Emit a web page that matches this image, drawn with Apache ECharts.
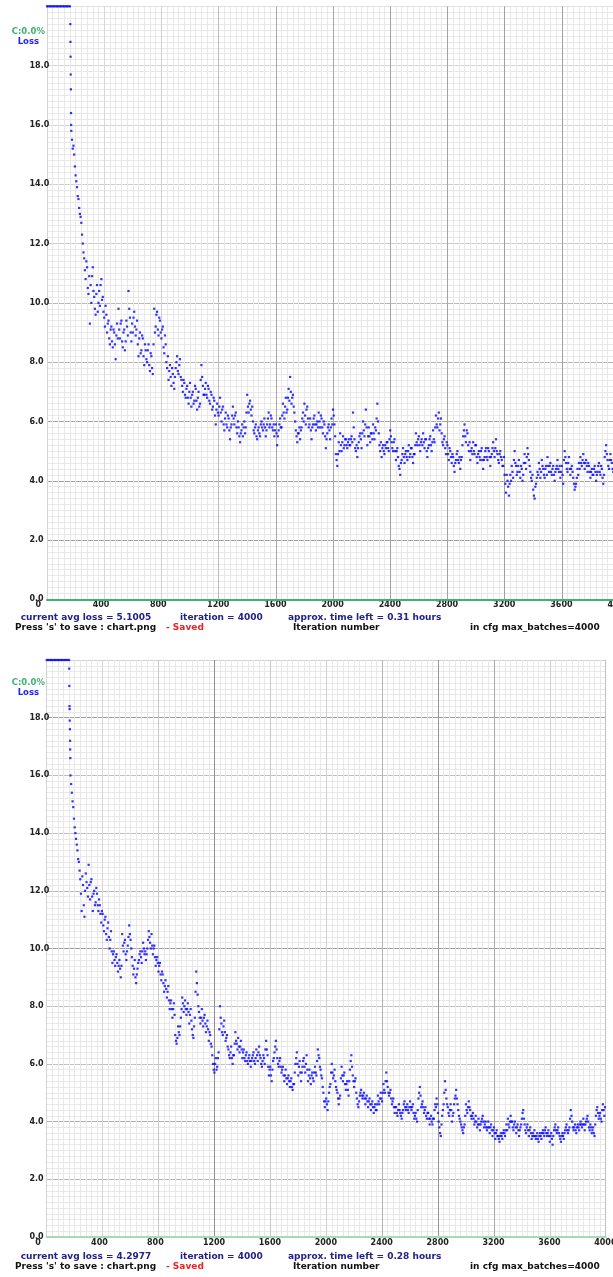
<!DOCTYPE html>
<html><head><meta charset="utf-8">
<script src="https://cdn.jsdelivr.net/npm/echarts@6/dist/echarts.min.js"></script>
<style>html,body{margin:0;padding:0;background:#fff}#c{width:613px;height:1277px}</style>
</head><body><div id="c"></div>
<script>
// ---------- data ----------
const xTickLabels = [0,400,800,1200,1600,2000,2400,2800,3200,3600,4000];
const yTickLabels = [0,2,4,6,8,10,12,14,16,18,20];
const mainStart = 200, mainStep = 10, halfStep = 5;

const topHeadIter = [0,10,20,30,40,50,60,70,80,90,100,110,120,130,140,150,160,163,164,165,166,167,168,169,170,175,180,185,190,195];
const topHeadLoss = [20,20,20,20,20,20,20,20,20,20,20,20,20,20,20,20,20,19.4,18.8,18.3,17.7,17.2,16.4,16.0,15.8,15.5,15.2,15.3,15.0,14.6];
// loss at iterations 200, 210, ... 3990
const topLossA = [
14.3,13.9,13.5,13.0,12.7,12.0,11.5,10.8,11.2,10.3,
9.3,10.0,11.2,10.2,9.6,10.6,10.0,9.9,10.8,10.2,
9.5,9.9,9.0,9.4,8.6,9.2,8.5,9.0,8.1,9.3,
9.8,8.8,9.4,8.5,9.1,8.7,9.2,10.4,9.5,8.7,
9.0,9.7,8.9,9.4,8.2,9.0,8.4,8.8,7.9,8.4,
8.0,8.6,7.7,8.2,7.6,9.8,9.2,9.7,8.9,9.4,
8.8,9.2,8.3,8.6,7.8,7.4,7.9,7.2,7.6,7.1,
7.8,8.2,7.6,8.1,7.4,7.0,7.3,6.8,7.2,6.6,
7.3,6.5,7.0,6.7,7.1,6.4,7.0,6.6,7.9,7.2,
6.9,7.3,6.8,7.1,6.6,6.9,6.5,6.7,5.9,6.6,
6.2,6.8,6.0,6.5,5.7,6.3,5.8,6.1,5.4,5.9,
6.5,5.9,6.3,5.6,5.8,5.3,5.7,5.5,6.0,5.8,
6.9,6.3,6.7,6.2,6.0,5.6,5.9,5.4,5.8,5.5,
6.0,5.7,6.1,5.5,5.9,6.3,5.9,6.1,5.7,5.5,
5.9,5.2,5.7,6.1,5.8,6.6,6.1,6.8,6.4,7.1,
7.5,6.6,6.9,6.3,5.7,5.3,5.6,5.4,5.8,6.3,
6.6,5.9,6.5,5.8,6.1,5.4,5.9,6.2,5.7,6.0,
6.3,5.8,6.1,5.6,5.9,5.1,5.6,5.9,5.4,6.1,
6.4,5.9,4.9,4.5,5.3,5.6,5.0,5.5,5.2,5.4,
5.1,5.4,5.2,5.5,6.3,5.4,5.0,4.8,5.3,5.6,
5.1,6.0,5.5,6.4,5.2,5.8,5.3,5.6,5.9,5.4,
5.7,6.6,5.6,5.0,4.8,5.2,4.9,5.1,5.3,5.0,
5.7,5.3,5.0,5.4,4.7,5.1,4.5,4.2,4.7,5.1,
4.6,5.0,4.7,5.2,4.9,5.1,4.6,4.9,5.6,5.2,
5.5,5.0,5.4,5.6,5.1,5.4,4.8,5.2,5.5,5.0,
5.7,5.3,6.2,5.8,6.3,5.9,5.6,5.2,5.5,4.9,
5.2,4.7,5.0,4.6,4.8,4.3,4.7,5.0,4.6,4.4,
4.8,5.5,5.9,5.3,5.6,5.0,4.7,5.1,5.3,4.9,
5.2,4.6,5.0,4.7,5.1,4.4,4.8,5.1,4.7,5.0,
4.5,4.9,5.3,4.8,5.4,4.9,4.6,5.0,4.7,4.5,
4.2,3.6,4.0,3.5,4.2,4.5,4.1,5.0,4.5,4.3,
4.7,4.1,4.4,4.2,4.9,4.4,5.1,4.7,4.3,4.0,
3.7,3.4,3.9,4.3,4.6,4.1,4.7,4.4,4.1,4.5,
4.8,4.3,4.6,4.2,4.5,4.0,4.4,4.7,4.3,4.1,
4.5,3.9,5.0,4.6,4.3,4.8,4.2,4.5,4.1,3.7,
3.9,4.4,4.6,4.8,4.5,4.9,4.4,4.7,4.3,4.5,
4.1,4.4,4.2,4.5,4.0,4.3,4.6,4.2,4.4,3.9,
4.8,5.2,4.7,4.4,4.9,4.6,4.3,4.8,5.0,4.6
];
// loss at iterations 205, 215, ... 3995
const topLossB = [
14.1,13.6,13.2,12.9,12.3,11.7,11.1,11.4,10.5,10.9,
10.6,10.9,10.4,9.8,10.3,9.7,10.4,10.6,10.1,9.7,
9.2,9.6,9.3,8.8,9.1,8.7,9.1,8.6,8.9,8.8,
9.1,9.3,8.7,9.0,8.4,9.4,8.9,9.8,9.0,9.3,
9.5,9.2,9.1,8.6,8.8,8.3,8.9,8.2,8.6,8.1,
8.4,7.9,8.3,7.8,8.6,9.0,9.6,9.1,9.5,9.0,
9.1,8.5,8.9,8.0,8.2,7.7,7.5,7.8,7.3,7.5,
8.0,7.7,7.9,7.5,7.2,7.4,6.9,7.1,6.8,7.0,
6.8,6.9,6.6,7.2,6.7,6.8,6.5,7.4,7.5,6.9,
7.1,6.9,7.2,6.7,7.0,6.4,6.8,6.2,6.4,6.3,
6.5,6.3,6.4,5.9,6.1,5.9,6.2,5.7,5.8,6.2,
6.1,6.2,5.8,6.0,5.5,5.6,5.9,5.8,5.6,6.3,
6.5,6.6,6.4,6.5,5.7,5.8,5.5,5.7,5.6,5.9,
5.8,5.9,5.8,5.7,6.1,5.8,6.2,5.8,5.9,5.7,
5.6,5.5,5.9,5.8,6.2,6.3,6.5,6.3,6.8,6.7,
7.0,6.8,6.5,6.0,5.5,5.6,5.8,5.7,6.1,6.0,
6.2,6.4,6.1,5.9,5.7,5.8,6.1,5.9,5.9,5.8,
6.0,6.2,5.8,6.0,5.5,5.4,5.8,5.7,5.8,5.9,
6.2,5.5,4.7,4.9,5.0,5.2,5.3,5.1,5.4,5.2,
5.3,5.2,5.4,5.3,5.8,5.1,5.2,5.1,5.5,5.4,
5.6,5.7,5.9,5.8,5.5,5.5,5.6,5.4,5.6,5.8,
6.1,6.0,5.2,5.3,5.1,5.0,5.2,5.3,5.1,5.4,
5.5,5.1,5.3,5.0,5.0,4.8,4.4,4.6,4.9,4.8,
4.9,4.8,5.0,4.8,5.1,4.8,4.9,5.2,5.3,5.4,
5.2,5.3,5.2,5.3,5.4,5.0,5.1,5.4,5.2,5.3,
5.4,5.8,5.9,6.1,5.7,6.1,5.3,5.4,5.1,5.3,
4.9,5.1,4.8,4.9,4.5,4.6,4.9,4.7,4.8,4.7,
5.2,5.7,5.5,5.7,5.2,5.3,5.0,4.9,5.0,5.2,
4.8,4.9,4.8,5.0,4.7,4.7,5.0,4.8,5.1,4.8,
4.8,5.1,5.0,5.1,5.0,4.7,4.9,4.8,4.5,4.8,
3.9,4.2,3.8,3.9,4.0,4.3,4.7,4.6,4.2,4.5,
4.3,4.5,4.0,4.6,4.6,4.8,4.9,4.5,4.1,4.2,
3.5,3.8,4.1,4.2,4.4,4.3,4.5,4.2,4.4,4.2,
4.5,4.5,4.3,4.4,4.2,4.3,4.5,4.4,4.5,4.3,
4.2,4.7,4.8,4.4,4.6,4.4,4.4,4.3,3.9,3.8,
4.1,4.2,4.4,4.6,4.7,4.6,4.6,4.5,4.6,4.3,
4.3,4.2,4.4,4.3,4.2,4.5,4.3,4.5,4.1,4.2,
5.0,4.9,4.5,4.7,4.7,4.4,4.6,4.7,4.8,4.9
];

const botHeadIter = [0,10,20,30,40,50,60,70,80,90,100,110,120,130,140,150,160,161,162,163,164,165,166,167,168,169,170,175,180,185,190,195];
const botHeadLoss = [20,20,20,20,20,20,20,20,20,20,20,20,20,20,20,20,20,19.7,19.1,18.4,18.3,17.9,17.6,17.2,16.9,16.6,16.0,15.7,15.4,15.1,14.9,14.5];
const botLossA = [
14.2,13.8,13.4,13.0,12.4,11.3,12.2,11.1,12.6,12.1,
12.9,11.7,12.4,11.3,12.0,11.6,11.9,11.3,11.5,10.9,
11.2,10.6,11.1,10.3,10.9,10.0,10.6,9.5,9.9,9.4,
9.8,9.2,9.6,9.0,10.5,9.9,10.3,9.6,10.1,10.8,
10.3,9.7,9.1,9.6,8.8,9.3,9.6,9.9,9.5,10.2,
9.8,9.6,10.0,10.6,10.2,10.5,9.8,10.1,9.4,9.7,
9.2,9.5,8.9,9.1,8.5,8.9,8.3,8.7,7.9,8.2,
7.6,8.1,7.0,6.7,7.3,7.0,7.6,8.3,7.8,8.2,
7.7,8.1,7.4,7.9,7.2,6.9,7.6,9.2,8.4,7.8,
7.4,7.9,7.3,7.7,7.1,7.5,6.8,7.0,6.6,6.0,
5.7,6.2,5.9,6.4,8.0,7.4,7.0,7.5,6.8,7.0,
6.5,6.2,6.6,6.0,6.3,7.1,6.7,6.9,6.4,6.8,
6.2,6.5,6.1,6.4,6.0,6.3,5.9,6.2,6.4,6.0,
6.5,6.1,6.6,6.2,5.9,6.3,6.0,6.8,6.3,5.6,
5.9,5.4,6.1,6.4,6.8,6.2,5.9,6.2,5.7,5.9,
5.4,5.8,5.3,5.6,5.2,5.5,5.1,5.3,6.0,6.4,
5.6,6.1,5.4,5.9,6.2,5.7,6.3,5.4,5.8,5.3,
5.7,5.4,5.9,5.6,6.5,6.2,5.8,5.5,5.0,4.5,
4.8,4.4,5.0,5.3,6.0,5.5,5.8,5.2,5.0,4.6,
4.9,5.9,5.4,5.7,5.1,5.4,4.9,5.8,6.3,5.6,
5.2,5.5,4.8,4.5,4.9,5.1,4.8,5.0,4.6,4.9,
4.5,4.8,4.4,4.7,4.3,4.6,4.4,4.9,4.6,5.0,
4.7,5.3,5.0,5.7,5.2,4.9,5.1,4.6,4.8,4.3,
4.5,4.2,4.6,4.3,4.1,4.4,4.7,4.4,4.6,4.3,
4.7,4.4,4.6,4.1,4.3,4.0,4.8,5.2,4.5,4.7,
4.3,4.5,4.1,4.3,3.9,4.2,3.9,4.1,4.6,4.8,
4.3,3.8,3.5,4.2,4.6,5.4,4.8,4.5,4.2,4.6,
4.0,4.3,4.8,5.1,4.6,4.2,4.0,3.8,3.6,3.9,
4.6,4.3,4.7,4.4,4.1,4.3,3.9,4.2,3.8,4.1,
3.7,4.0,4.2,3.8,4.0,3.7,4.0,3.6,3.9,3.5,
3.8,3.4,3.7,3.5,3.3,3.6,3.4,3.7,3.5,3.9,
4.1,3.8,4.2,4.0,3.7,4.0,3.6,3.9,3.5,3.8,
4.1,4.4,3.9,3.6,3.9,3.5,3.8,3.4,3.6,3.7,
3.4,3.6,3.3,3.6,3.4,3.7,3.5,3.8,3.5,3.7,
3.3,3.6,3.2,3.7,3.9,3.6,3.8,3.5,3.3,3.6,
3.4,3.7,3.9,3.6,3.8,4.4,4.0,3.7,3.9,3.6,
3.9,3.7,4.0,3.8,4.1,3.7,4.0,4.2,3.8,3.9,
3.6,3.8,3.5,4.2,4.5,4.1,4.3,4.0,4.6,4.2
];
const botLossB = [
14.0,13.6,13.1,12.7,11.9,12.5,11.5,12.0,12.3,11.8,
12.2,12.3,11.8,11.9,11.5,12.1,11.5,11.7,11.2,11.3,
10.8,11.0,10.5,10.7,10.4,10.3,9.9,9.8,9.6,9.7,
9.5,9.4,9.3,9.4,10.1,10.2,9.8,9.9,10.4,10.5,
10.0,9.4,9.3,9.0,9.1,9.5,9.8,9.7,9.9,10.0,
9.9,9.8,10.3,10.4,10.0,10.1,10.0,9.7,9.6,9.5,
9.4,9.1,9.2,8.8,8.7,8.6,8.5,8.2,8.1,7.9,
7.9,7.7,6.8,6.9,7.1,7.3,7.9,8.1,8.0,7.9,
7.9,7.8,7.7,7.5,7.0,7.3,8.5,8.8,8.0,7.6,
7.6,7.5,7.6,7.4,7.3,7.2,7.1,6.7,6.3,5.8,
6.0,5.8,6.2,7.2,7.6,7.1,7.3,7.1,6.9,6.6,
6.3,6.4,6.2,6.3,6.7,6.8,6.5,6.6,6.6,6.5,
6.4,6.2,6.3,6.1,6.2,6.1,6.1,6.3,6.1,6.2,
6.3,6.4,6.3,6.0,6.1,6.2,6.5,6.5,5.9,5.8,
5.6,5.8,6.2,6.6,6.5,6.0,6.1,5.9,5.8,5.6,
5.6,5.5,5.5,5.4,5.4,5.2,5.3,5.7,6.2,6.0,
5.9,5.7,5.7,6.1,5.9,6.0,5.8,5.6,5.5,5.6,
5.5,5.7,5.7,6.1,6.3,5.9,5.6,5.2,4.7,4.7,
4.6,4.7,5.2,5.7,5.7,5.6,5.4,5.1,4.8,4.8,
5.5,5.6,5.6,5.3,5.3,5.1,5.4,6.1,5.9,5.4,
5.4,5.0,4.6,4.7,5.0,4.9,4.9,4.8,4.8,4.7,
4.7,4.6,4.6,4.5,4.5,4.4,4.6,4.7,4.8,4.8,
5.0,5.1,5.4,5.4,5.0,5.0,4.8,4.7,4.5,4.5,
4.3,4.4,4.4,4.2,4.3,4.6,4.5,4.5,4.4,4.5,
4.5,4.5,4.3,4.2,4.1,4.4,5.0,4.9,4.6,4.5,
4.4,4.2,4.3,4.1,4.1,4.0,4.1,4.4,4.5,4.6,
4.0,3.6,3.9,4.4,5.0,5.1,4.6,4.3,4.4,4.4,
4.2,4.6,4.9,4.8,4.4,4.1,3.9,3.7,3.8,4.2,
4.4,4.5,4.5,4.2,4.2,4.1,4.0,4.0,3.9,3.9,
3.9,4.1,4.0,3.9,3.8,3.8,3.8,3.8,3.7,3.7,
3.6,3.6,3.5,3.4,3.5,3.5,3.6,3.6,3.7,3.7,
3.9,4.0,4.0,3.8,3.9,3.8,3.8,3.7,3.7,3.9,
4.3,4.1,3.7,3.8,3.7,3.7,3.6,3.5,3.5,3.5,
3.5,3.4,3.5,3.5,3.6,3.6,3.7,3.6,3.6,3.5,
3.5,3.4,3.5,3.8,3.7,3.7,3.6,3.4,3.5,3.5,
3.6,3.8,3.7,3.7,4.1,4.2,3.8,3.8,3.7,3.8,
3.8,3.9,3.9,3.9,3.9,3.9,4.1,4.0,3.7,3.8,
3.7,3.6,3.9,4.4,4.3,4.2,4.1,4.4,4.4,4.5
];

const topStatus = ['current avg loss = 5.1005', 'iteration = 4000', 'approx. time left = 0.31 hours'];
const botStatus = ['current avg loss = 4.2977', 'iteration = 4000', 'approx. time left = 0.28 hours'];
const maxBatchesText = 'in cfg max_batches=4000';

// ---------- build ----------
function pts(headIter, headLoss, lossA, lossB) {
  const d = headIter.map((it, i) => [it, headLoss[i]]);
  lossA.forEach((v, i) => d.push([mainStart + i * mainStep, v]));
  lossB.forEach((v, i) => d.push([mainStart + halfStep + i * mainStep, v]));
  return d;
}
const FONT = '"DejaVu Sans"';
const G = [
  {left: 47, top: 6.3, width: 572, height: 593.1,
   v: ['#d4d4d4','#d8d8d8','#d0d0d0','#bcbcbc','#a8a8a8','#a8a8a8','#a4a4a4','#a4a4a4','#a0a0a0','#a0a0a0','#a0a0a0'],
   h: ['#d0d0d0','#a4a4a4','#a0a0a0','#a8a8a8','#b4b4b4','#b8b8b8','#cccccc','#d0d0d0','#d4d4d4','#d4d4d4','#e0e0e0'],
   green: '#3cb371'},
  {left: 46.7, top: 660, width: 559, height: 577,
   v: ['#d4d4d4','#d8d8d8','#c8c8c8','#909090','#c8c8c8','#d0d0d0','#b4b4b4','#989898','#a8a8a8','#d0d0d0','#c0c0c0'],
   h: ['#d0d0d0','#b8b8b8','#b0b0b0','#c0c0c0','#c0c0c0','#a0a0a0','#b8b8b8','#c0c0c0','#c0c0c0','#a0a0a0','#d0d0d0'],
   green: '#a6dcb2'}
];
const LABEL_SHIFT = 11.5;   // darknet writes tick labels starting slightly left of the grid line
const LABEL_DROP = 6;       // label centre below the zero line
const xStep = xTickLabels[1] - xTickLabels[0];
const xMin = xTickLabels[0], xMax = xTickLabels[xTickLabels.length - 1];
const grid = [], xAxis = [], yAxis = [];
G.forEach((g, gi) => {
  grid.push({left: g.left, top: g.top, width: g.width, height: g.height, containLabel: false, outerBoundsMode: 'none'});
  xAxis.push({type: 'value', gridIndex: gi, position: 'bottom', min: xMin, max: xMax, interval: 40,
    axisLine: {show: false}, axisTick: {show: false}, axisLabel: {show: false},
    splitLine: {show: true, lineStyle: {color: '#e8e8e8', width: 1}}});
  xAxis.push({type: 'value', gridIndex: gi, position: 'bottom', min: xMin, max: xMax, interval: xStep,
    axisLine: {show: true, onZero: false, lineStyle: {color: g.green, width: 2}},
    axisTick: {show: false}, axisLabel: {show: false},
    splitLine: {show: true, lineStyle: {color: g.v, width: 1}}});
  yAxis.push({type: 'value', gridIndex: gi, position: 'left', min: 0, max: 20, interval: 0.2,
    axisLine: {show: false}, axisTick: {show: false}, axisLabel: {show: false},
    splitLine: {show: true, lineStyle: {color: '#e8e8e8', width: 1}}});
  yAxis.push({type: 'value', gridIndex: gi, position: 'left', min: yTickLabels[0], max: yTickLabels[yTickLabels.length-1], interval: 2,
    axisLine: {show: false}, axisTick: {show: false},
    axisLabel: {show: true, showMinLabel: true, showMaxLabel: false, align: 'left', margin: g.left - 29.5, color: '#222',
      fontFamily: FONT, fontWeight: 'bold', fontSize: 8, formatter: v => v.toFixed(1)},
    splitLine: {show: true, lineStyle: {color: g.h, width: 1}}});
});

const series = [
  {type: 'scatter', xAxisIndex: 1, yAxisIndex: 1, data: pts(topHeadIter, topHeadLoss, topLossA, topLossB),
   symbol: 'rect', symbolSize: 2.2, itemStyle: {color: '#0000ff'}, silent: true, z: 5},
  {type: 'scatter', xAxisIndex: 3, yAxisIndex: 3, data: pts(botHeadIter, botHeadLoss, botLossA, botLossB),
   symbol: 'rect', symbolSize: 2.2, itemStyle: {color: '#0000ff'}, silent: true, z: 5}
];

function txt(x, y, text, fill, size) {
  return {type: 'text', x: x, y: y, silent: true,
    style: {text: text, fill: fill, font: 'bold ' + (size || 9) + 'px ' + FONT, textVerticalAlign: 'middle', textAlign: 'left'}};
}
function block(oy, status, rows) {
  return [
    txt(11.7, oy + 32, 'C:0.0%', '#3cb371', 8.5),
    txt(17.7, oy + 42, 'Loss', '#1f1fff', 8.5),
    txt(20.7, rows[0], status[0], '#22228a'),
    txt(180, rows[0], status[1], '#22228a'),
    txt(288, rows[0], status[2], '#22228a'),
    txt(15, rows[1], "Press 's' to save : chart.png", '#111'),
    txt(166, rows[1], '- Saved', '#f02020'),
    txt(293, rows[1], 'Iteration number', '#111'),
    txt(470, rows[1], maxBatchesText, '#111')
  ];
}

const chart = echarts.init(document.getElementById('c'), null, {renderer: 'canvas'});
chart.setOption({animation: false, backgroundColor: '#fff', grid, xAxis, yAxis, series});

// x tick labels, placed through the chart's own x/y scales (darknet style: text starts left of the line)
const tickText = [];
G.forEach((g, gi) => {
  const y0 = chart.convertToPixel({yAxisIndex: 2 * gi + 1}, 0) + LABEL_DROP;
  xTickLabels.forEach(v => {
    const px = chart.convertToPixel({xAxisIndex: 2 * gi + 1}, v);
    tickText.push(txt(px - LABEL_SHIFT, y0, String(v), '#222', 8));
  });
});
const graphic = [].concat(block(0, topStatus, [617.7, 628]), block(650.5, botStatus, [1256.7, 1266.7]), tickText);
chart.setOption({graphic: graphic});
</script></body></html>
